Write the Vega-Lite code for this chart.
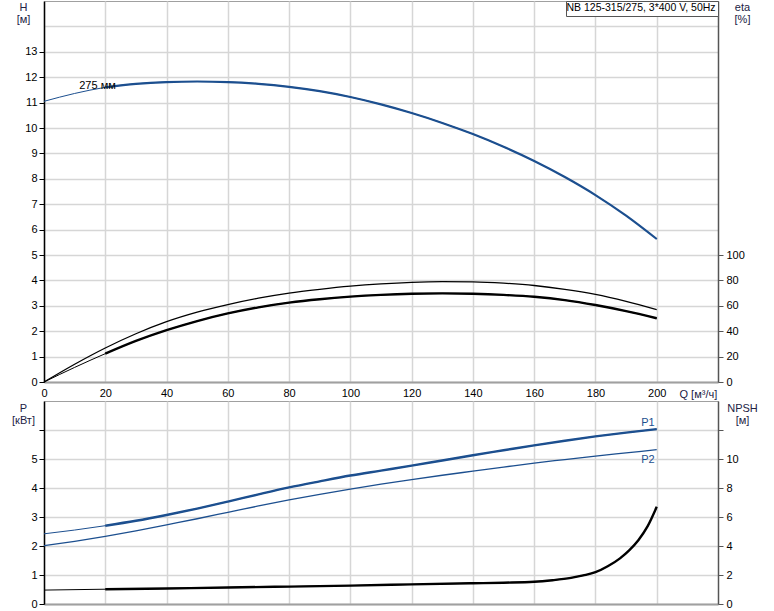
{
  "$schema": "https://vega.github.io/schema/vega-lite/v6.json",
  "background": "white",
  "padding": {"left": 11, "top": 0, "right": 0, "bottom": 0},
  "bounds": "flush",
  "spacing": 19,
  "config": {
    "font": "Liberation Sans",
    "view": {"stroke": "#a0a0a0", "strokeWidth": 1},
    "axis": {
      "labelFont": "Liberation Sans", "labelFontSize": 11, "labelColor": "#000",
      "titleFont": "Liberation Sans", "titleFontSize": 11, "titleFontWeight": "normal", "titleColor": "#222244",
      "gridColor": "#d6d6d6", "gridWidth": 1.5, "tickSize": 5
    }
  },
  "datasets": {
    "H": [
      {"Q": 0, "H": 11.05}, {"Q": 10, "H": 11.36}, {"Q": 20, "H": 11.6}, {"Q": 30, "H": 11.74},
      {"Q": 40, "H": 11.81}, {"Q": 50, "H": 11.83}, {"Q": 60, "H": 11.81}, {"Q": 70, "H": 11.74},
      {"Q": 80, "H": 11.62}, {"Q": 90, "H": 11.45}, {"Q": 100, "H": 11.22}, {"Q": 110, "H": 10.93},
      {"Q": 120, "H": 10.59}, {"Q": 130, "H": 10.2}, {"Q": 140, "H": 9.76}, {"Q": 150, "H": 9.26},
      {"Q": 160, "H": 8.7}, {"Q": 170, "H": 8.07}, {"Q": 180, "H": 7.36}, {"Q": 190, "H": 6.55},
      {"Q": 200, "H": 5.63}
    ],
    "eta1": [
      {"Q": 0, "eta": 0}, {"Q": 10, "eta": 14}, {"Q": 20, "eta": 26.8}, {"Q": 30, "eta": 38},
      {"Q": 40, "eta": 47.5}, {"Q": 50, "eta": 55}, {"Q": 60, "eta": 61}, {"Q": 70, "eta": 66},
      {"Q": 80, "eta": 70}, {"Q": 90, "eta": 73}, {"Q": 100, "eta": 75.5}, {"Q": 110, "eta": 77.3},
      {"Q": 120, "eta": 78.5}, {"Q": 130, "eta": 79}, {"Q": 140, "eta": 78.8}, {"Q": 150, "eta": 77.8},
      {"Q": 160, "eta": 76}, {"Q": 170, "eta": 73}, {"Q": 180, "eta": 69}, {"Q": 190, "eta": 63.5},
      {"Q": 200, "eta": 57}
    ],
    "eta2": [
      {"Q": 0, "eta": 0}, {"Q": 10, "eta": 11.5}, {"Q": 20, "eta": 22.3}, {"Q": 30, "eta": 32.3},
      {"Q": 40, "eta": 40.8}, {"Q": 50, "eta": 48}, {"Q": 60, "eta": 54}, {"Q": 70, "eta": 58.8},
      {"Q": 80, "eta": 62.5}, {"Q": 90, "eta": 65.2}, {"Q": 100, "eta": 67.2}, {"Q": 110, "eta": 68.6},
      {"Q": 120, "eta": 69.5}, {"Q": 130, "eta": 69.8}, {"Q": 140, "eta": 69.5}, {"Q": 150, "eta": 68.6},
      {"Q": 160, "eta": 67.1}, {"Q": 170, "eta": 64.5}, {"Q": 180, "eta": 60.6}, {"Q": 190, "eta": 55.8},
      {"Q": 200, "eta": 50.2}
    ],
    "P1": [
      {"Q": 0, "P": 2.42}, {"Q": 10, "P": 2.55}, {"Q": 20, "P": 2.7}, {"Q": 30, "P": 2.87},
      {"Q": 40, "P": 3.07}, {"Q": 50, "P": 3.29}, {"Q": 60, "P": 3.53}, {"Q": 70, "P": 3.78},
      {"Q": 80, "P": 4.02}, {"Q": 90, "P": 4.23}, {"Q": 100, "P": 4.43}, {"Q": 110, "P": 4.6},
      {"Q": 120, "P": 4.77}, {"Q": 130, "P": 4.95}, {"Q": 140, "P": 5.13}, {"Q": 150, "P": 5.3},
      {"Q": 160, "P": 5.47}, {"Q": 170, "P": 5.63}, {"Q": 180, "P": 5.78}, {"Q": 190, "P": 5.91},
      {"Q": 200, "P": 6.03}
    ],
    "P2": [
      {"Q": 0, "P": 2.01}, {"Q": 10, "P": 2.16}, {"Q": 20, "P": 2.33}, {"Q": 30, "P": 2.52},
      {"Q": 40, "P": 2.73}, {"Q": 50, "P": 2.94}, {"Q": 60, "P": 3.16}, {"Q": 70, "P": 3.38},
      {"Q": 80, "P": 3.59}, {"Q": 90, "P": 3.78}, {"Q": 100, "P": 3.96}, {"Q": 110, "P": 4.13},
      {"Q": 120, "P": 4.29}, {"Q": 130, "P": 4.44}, {"Q": 140, "P": 4.58}, {"Q": 150, "P": 4.72},
      {"Q": 160, "P": 4.86}, {"Q": 170, "P": 4.98}, {"Q": 180, "P": 5.1}, {"Q": 190, "P": 5.21},
      {"Q": 200, "P": 5.32}
    ],
    "NPSH": [
      {"Q": 0, "NPSH": 0.96}, {"Q": 20, "NPSH": 1.02}, {"Q": 40, "NPSH": 1.07}, {"Q": 60, "NPSH": 1.14},
      {"Q": 80, "NPSH": 1.2}, {"Q": 100, "NPSH": 1.27}, {"Q": 120, "NPSH": 1.35}, {"Q": 140, "NPSH": 1.43},
      {"Q": 150, "NPSH": 1.47}, {"Q": 160, "NPSH": 1.53}, {"Q": 166, "NPSH": 1.64}, {"Q": 172, "NPSH": 1.8},
      {"Q": 176, "NPSH": 1.97}, {"Q": 180, "NPSH": 2.19}, {"Q": 184, "NPSH": 2.6}, {"Q": 188, "NPSH": 3.15},
      {"Q": 191, "NPSH": 3.7}, {"Q": 194, "NPSH": 4.4}, {"Q": 197, "NPSH": 5.35}, {"Q": 200, "NPSH": 6.7}
    ],
    "Hlabel": [{"Q": 11.5, "H": 11.54, "t": "275 мм"}],
    "Plabels": [{"Q": 200, "P": 6.03, "t": "P1"}],
    "P2labels": [{"Q": 200, "P": 5.32, "t": "P2"}]
  },
  "vconcat": [
    {
      "width": 674,
      "height": 381,
      "encoding": {
        "x": {
          "field": "Q", "type": "quantitative",
          "scale": {"domain": [0, 220], "nice": false},
          "axis": {
            "values": [0, 20, 40, 60, 80, 100, 120, 140, 160, 180, 200],
            "title": "Q [м³/ч]", "titleX": 635, "titleY": 15, "titleAlign": "left",
            "titleBaseline": "alphabetic", "titleColor": "#222244",
            "ticks": false, "tickSize": 0, "labelPadding": 5, "labelFlush": false,
            "domainColor": "#a0a0a0", "domainWidth": 2, "grid": true
          }
        }
      },
      "layer": [
        {
          "encoding": {
            "y": {
              "field": "H", "type": "quantitative",
              "scale": {"domain": [0, 15], "nice": false},
              "axis": {
                "orient": "left",
                "values": [0, 1, 2, 3, 4, 5, 6, 7, 8, 9, 10, 11, 12, 13, 14],
                "labelExpr": "datum.value > 13 ? '' : datum.label",
                "tickOpacity": {"condition": {"test": "datum.value > 13", "value": 0}, "value": 1},
                "title": ["H", "[м]"], "titleAngle": 0, "titleX": -21, "titleY": 0,
                "titleAlign": "center", "titleBaseline": "top", "titleLineHeight": 12,
                "domainColor": "#000", "domainWidth": 1.5, "tickColor": "#000", "labelPadding": 2, "grid": true
              }
            }
          },
          "layer": [
            {
              "data": {"name": "H"},
              "mark": {"type": "line", "strokeWidth": 1, "interpolate": "monotone"},
              "encoding": {
                "color": {
                  "datum": "NB 125-315/275, 3*400 V, 50Hz",
                  "scale": {"range": ["#1c4f8f"]},
                  "legend": {
                    "orient": "top-right", "offset": 0, "title": null,
                    "symbolSize": 0, "symbolStrokeWidth": 0, "symbolOpacity": 0, "labelOffset": -12,
                    "labelFontSize": 10.5, "labelFont": "Liberation Sans", "labelColor": "#000", "labelLimit": 300,
                    "padding": 2, "strokeColor": "#555", "fillColor": "white"
                  }
                }
              }
            },
            {
              "data": {"name": "H"},
              "transform": [{"filter": "datum.Q >= 20"}],
              "mark": {"type": "line", "strokeWidth": 2.2, "color": "#1c4f8f", "interpolate": "monotone"},
              "encoding": {}
            },
            {
              "data": {"name": "Hlabel"},
              "mark": {"type": "text", "align": "left", "baseline": "alphabetic", "fontSize": 11, "font": "Liberation Sans", "color": "#000"},
              "encoding": {"text": {"field": "t"}}
            }
          ]
        },
        {
          "encoding": {
            "y": {
              "field": "eta", "type": "quantitative",
              "scale": {"domain": [0, 300], "nice": false},
              "axis": {
                "orient": "right",
                "values": [0, 20, 40, 60, 80, 100],
                "grid": false,
                "title": ["eta", "[%]"], "titleAngle": 0, "titleX": 24, "titleY": 0,
                "titleAlign": "center", "titleBaseline": "top", "titleLineHeight": 12,
                "domainColor": "#555", "domainWidth": 1.5, "tickColor": "#555", "labelPadding": 3
              }
            }
          },
          "layer": [
            {
              "data": {"name": "eta1"},
              "mark": {"type": "line", "strokeWidth": 1.3, "color": "#000", "interpolate": "monotone"},
              "encoding": {}
            },
            {
              "data": {"name": "eta2"},
              "mark": {"type": "line", "strokeWidth": 1, "color": "#000", "interpolate": "monotone"},
              "encoding": {}
            },
            {
              "data": {"name": "eta2"},
              "transform": [{"filter": "datum.Q >= 20"}],
              "mark": {"type": "line", "strokeWidth": 2.4, "color": "#000", "interpolate": "monotone"},
              "encoding": {}
            }
          ]
        }
      ],
      "resolve": {"scale": {"y": "independent"}}
    },
    {
      "width": 674,
      "height": 203,
      "encoding": {
        "x": {
          "field": "Q", "type": "quantitative",
          "scale": {"domain": [0, 220], "nice": false},
          "axis": {
            "values": [0, 20, 40, 60, 80, 100, 120, 140, 160, 180, 200],
            "labels": false, "ticks": false, "title": null,
            "domainColor": "#a0a0a0", "domainWidth": 2, "grid": true
          }
        }
      },
      "layer": [
        {
          "encoding": {
            "y": {
              "field": "P", "type": "quantitative",
              "scale": {"domain": [0, 7], "nice": false},
              "axis": {
                "orient": "left",
                "values": [0, 1, 2, 3, 4, 5, 6],
                "labelExpr": "datum.value > 5 ? '' : datum.label",
                "title": ["P", "[кВт]"], "titleAngle": 0, "titleX": -21, "titleY": 1,
                "titleAlign": "center", "titleBaseline": "top", "titleLineHeight": 12,
                "domainColor": "#000", "domainWidth": 1.5, "tickColor": "#000", "labelPadding": 2, "grid": true
              }
            }
          },
          "layer": [
            {
              "data": {"name": "P1"},
              "mark": {"type": "line", "strokeWidth": 1, "color": "#1c4f8f", "interpolate": "monotone"},
              "encoding": {}
            },
            {
              "data": {"name": "P1"},
              "transform": [{"filter": "datum.Q >= 20"}],
              "mark": {"type": "line", "strokeWidth": 2.4, "color": "#1c4f8f", "interpolate": "monotone"},
              "encoding": {}
            },
            {
              "data": {"name": "P2"},
              "mark": {"type": "line", "strokeWidth": 1.3, "color": "#1c4f8f", "interpolate": "monotone"},
              "encoding": {}
            },
            {
              "data": {"name": "Plabels"},
              "mark": {"type": "text", "align": "right", "baseline": "alphabetic", "dy": -3, "dx": -2, "fontSize": 11, "font": "Liberation Sans", "color": "#1c4f8f"},
              "encoding": {"text": {"field": "t"}}
            },
            {
              "data": {"name": "P2labels"},
              "mark": {"type": "text", "align": "right", "baseline": "top", "dy": 4, "dx": -2, "fontSize": 11, "font": "Liberation Sans", "color": "#1c4f8f"},
              "encoding": {"text": {"field": "t"}}
            }
          ]
        },
        {
          "encoding": {
            "y": {
              "field": "NPSH", "type": "quantitative",
              "scale": {"domain": [0, 14], "nice": false},
              "axis": {
                "orient": "right",
                "values": [0, 2, 4, 6, 8, 10, 12],
                "labelExpr": "datum.value > 10 ? '' : datum.label",
                "grid": false,
                "title": ["NPSH", "[м]"], "titleAngle": 0, "titleX": 24, "titleY": 1,
                "titleAlign": "center", "titleBaseline": "top", "titleLineHeight": 12,
                "domainColor": "#555", "domainWidth": 1.5, "tickColor": "#555", "labelPadding": 3
              }
            }
          },
          "layer": [
            {
              "data": {"name": "NPSH"},
              "mark": {"type": "line", "strokeWidth": 1, "color": "#000", "interpolate": "monotone"},
              "encoding": {}
            },
            {
              "data": {"name": "NPSH"},
              "transform": [{"filter": "datum.Q >= 20"}],
              "mark": {"type": "line", "strokeWidth": 2.4, "color": "#000", "interpolate": "monotone"},
              "encoding": {}
            }
          ]
        }
      ],
      "resolve": {"scale": {"y": "independent"}}
    }
  ]
}
